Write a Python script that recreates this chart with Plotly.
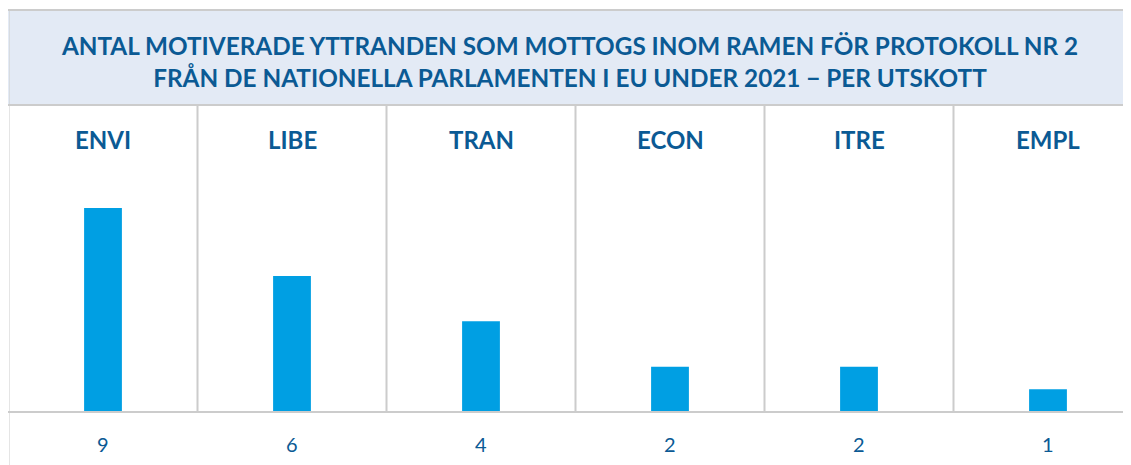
import plotly.graph_objects as go

categories = ["ENVI", "LIBE", "TRAN", "ECON", "ITRE", "EMPL"]
values = [9, 6, 4, 2, 2, 1]
title_lines = ["ANTAL MOTIVERADE YTTRANDEN SOM MOTTOGS INOM RAMEN FÖR PROTOKOLL NR 2",
               "FRÅN DE NATIONELLA PARLAMENTEN I EU UNDER 2021 − PER UTSKOTT"]

# page body has an 8px margin, so the figure starts at (8, 8) in the window
W, H = 1123, 457
ML, MT, MB = 1, 97, 53
plot_h = H - MT - MB
BAR = "#009fe3"
TXT = "#0b5a94"
LINE = "#cccccc"
FONT = "Lato"

fig = go.Figure(go.Bar(x=list(range(len(categories))), y=values, marker_color=BAR,
                       marker_line_width=0, width=0.2, hoverinfo="skip"))

col_px = 189.0
x_start = -0.5 + (ML - 0.5) / col_px
xr_end = x_start + (W - ML) / col_px
px_per_unit = 22.67
fig.update_layout(
    width=W, height=H,
    margin=dict(l=ML, r=0, t=MT, b=MB, pad=0),
    paper_bgcolor="white", plot_bgcolor="white",
    showlegend=False,
    xaxis=dict(range=[x_start, xr_end], showgrid=False, zeroline=False, showticklabels=False,
               showline=False, fixedrange=True),
    yaxis=dict(range=[0, plot_h / px_per_unit], showgrid=False, zeroline=False,
               showticklabels=False, showline=False, fixedrange=True),
    title=dict(text="<b>" + "<br>".join(title_lines) + "</b>", x=0.5, xanchor="center",
               xref="paper", y=1 - 47 / H, yanchor="middle",
               font=dict(family=FONT, size=24.3, color=TXT)),
)

shapes = []
top_band = 1 + (MT - 2) / plot_h
# title band
shapes.append(dict(type="rect", xref="paper", yref="paper", x0=-0.01, x1=1.05, y0=1, y1=top_band,
                   fillcolor="#e3eaf5", line=dict(width=0), layer="below"))
shapes.append(dict(type="line", xref="paper", yref="paper", x0=-0.01, x1=1.05, y0=top_band, y1=top_band,
                   line=dict(color=LINE, width=2)))
shapes.append(dict(type="line", xref="paper", yref="paper", x0=-0.01, x1=1.05, y0=1, y1=1,
                   line=dict(color=LINE, width=2)))
# left border
shapes.append(dict(type="line", xref="x", yref="paper", x0=-0.5, x1=-0.5, y0=-MB / plot_h - 0.01,
                   y1=top_band, line=dict(color=LINE, width=2)))
# baseline
shapes.append(dict(type="line", xref="paper", yref="paper", x0=-0.01, x1=1.05, y0=0, y1=0,
                   line=dict(color=LINE, width=2)))
# column separators
for i in range(len(categories) - 1):
    shapes.append(dict(type="line", xref="x", yref="paper", x0=i + 0.5, x1=i + 0.5, y0=0, y1=1,
                       line=dict(color=LINE, width=2)))
fig.update_layout(shapes=shapes)

ann = []
for i, (c, v) in enumerate(zip(categories, values)):
    ann.append(dict(x=i, xref="x", y=(404 - 131) / plot_h, yref="paper", text="<b>" + c + "</b>",
                    showarrow=False, yanchor="middle", font=dict(family=FONT, size=24, color=TXT)))
    ann.append(dict(x=i, xref="x", y=-32 / plot_h, yref="paper", text=str(v),
                    showarrow=False, yanchor="middle", font=dict(family=FONT, size=20, color=TXT)))
fig.update_layout(annotations=ann)

fig.write_html("out.html")
